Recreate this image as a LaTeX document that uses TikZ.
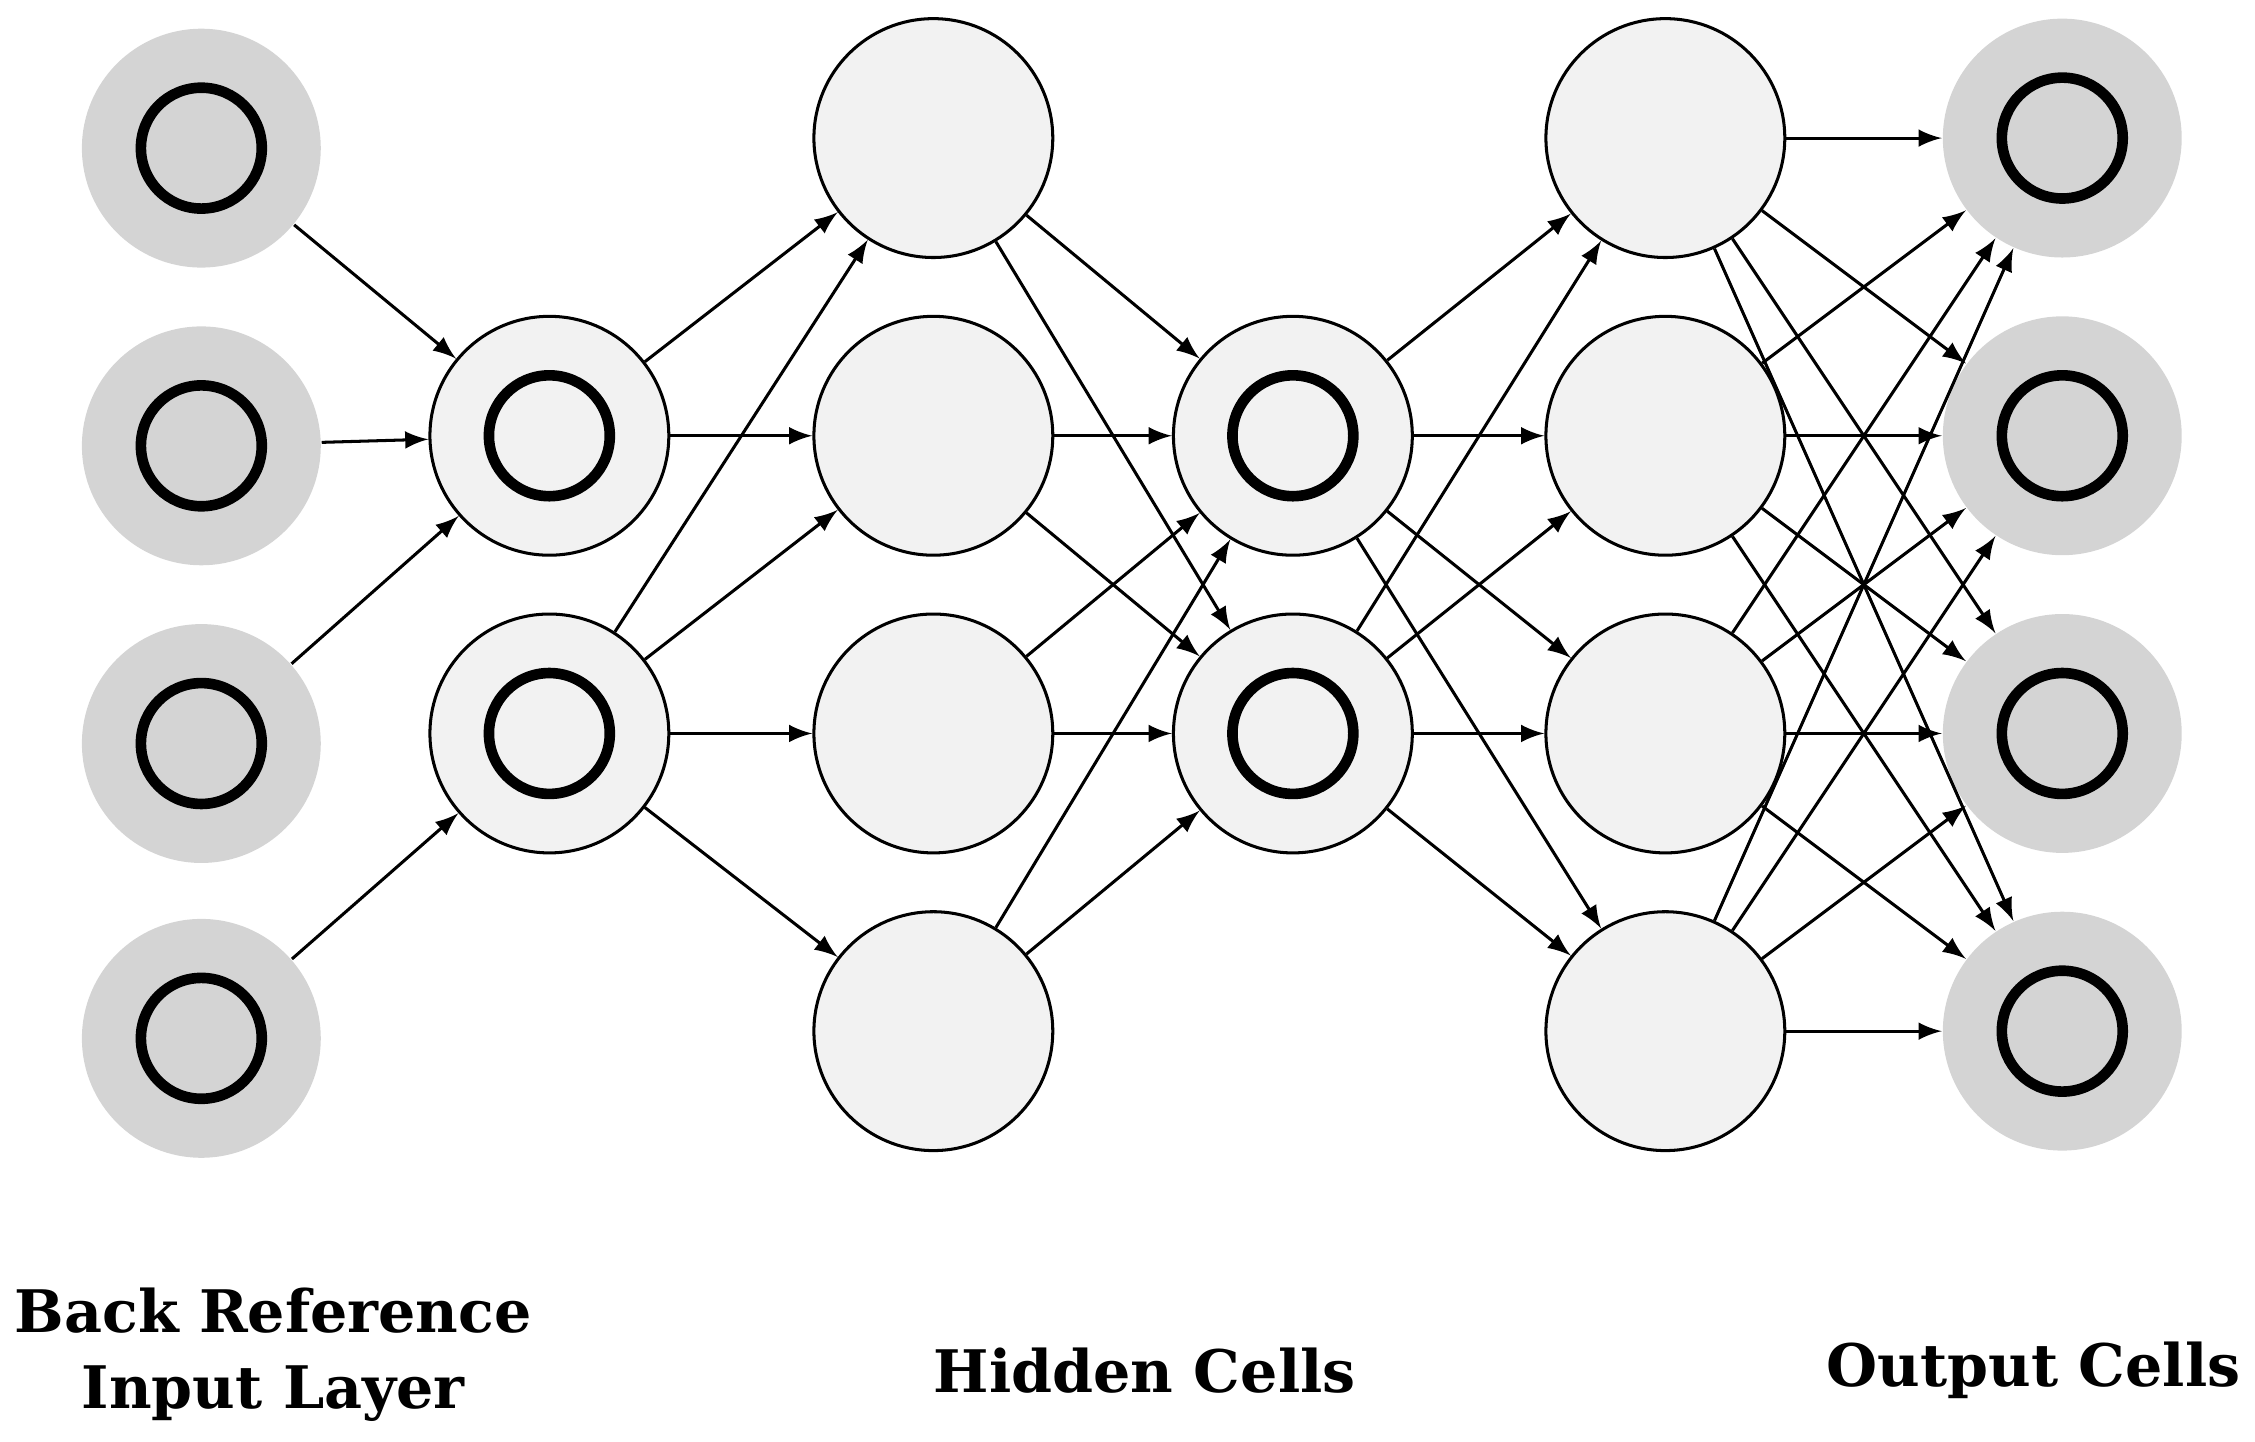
\documentclass[tikz,border=0pt]{standalone}
\usepackage{fontspec}
\setmainfont{DejaVu Serif}
\begin{document}
\begin{tikzpicture}[x=0.01cm,y=-0.01cm,
  inp/.style={circle,fill=black!17,minimum size=1.66cm,inner sep=0pt},
  cell/.style={circle,draw=black,fill=black!5,line width=0.6pt,minimum size=1.66cm,inner sep=0pt},
  ring/.style={line width=2.1pt},
  e/.style={-latex,line width=0.6pt},
  lab/.style={font=\bfseries\fontsize{11.6}{15}\selectfont,align=center}]
\useasboundingbox (0,0) rectangle (1568,1002);
\foreach \i/\y in {1/103,2/310,3/517,4/722}{
  \node[inp] (a\i) at (140,\y) {};
  \draw[ring] (a\i.center) circle (0.42cm);}
\foreach \i/\y in {1/303,2/510}{
  \node[cell] (b\i) at (382,\y) {};
  \draw[ring] (b\i.center) circle (0.42cm);
  \node[cell] (d\i) at (899,\y) {};
  \draw[ring] (d\i.center) circle (0.42cm);}
\foreach \i/\y in {1/96,2/303,3/510,4/717}{
  \node[cell] (c\i) at (649,\y) {};
  \node[cell] (f\i) at (1158,\y) {};
  \node[inp] (o\i) at (1434,\y) {};
  \draw[ring] (o\i.center) circle (0.42cm);}
\draw[e] (a1) -- (b1); \draw[e] (a2) -- (b1); \draw[e] (a3) -- (b1); \draw[e] (a4) -- (b2);
\draw[e] (b1) -- (c1); \draw[e] (b1) -- (c2);
\foreach \j in {1,...,4}{\draw[e] (b2) -- (c\j);}
\foreach \j in {1,...,4}{\foreach \k in {1,2}{\draw[e] (c\j) -- (d\k);}}
\foreach \j in {1,2}{\foreach \k in {1,...,4}{\draw[e] (d\j) -- (f\k);}}
\foreach \j in {1,...,4}{\foreach \k in {1,...,4}{\draw[e] (f\j) -- (o\k);}}
\node[lab] (l1) at (190,942) {Back Reference\\Input Layer};
\node[lab] (l2) at (796,953) {Hidden Cells};
\node[lab] (l3) at (1414,953) {Output Cells};
\end{tikzpicture}
\end{document}
